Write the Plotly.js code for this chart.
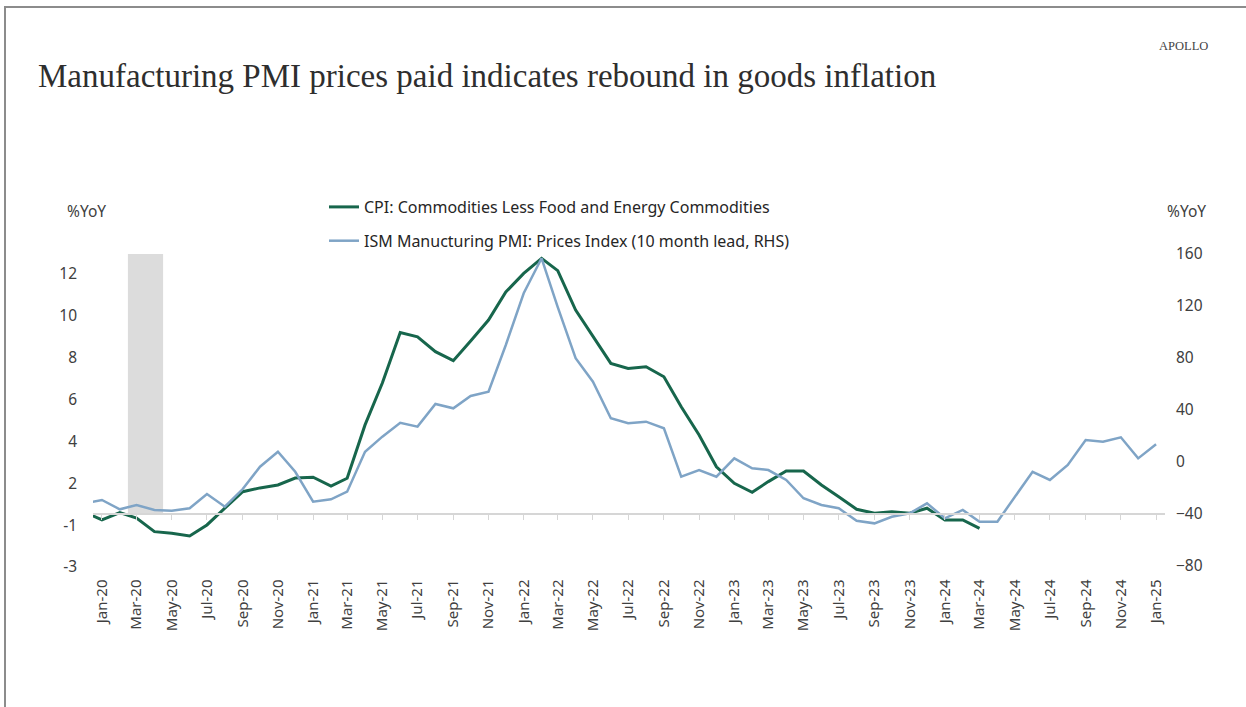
<!DOCTYPE html>
<html>
<head>
<meta charset="utf-8">
<script src="https://cdn.plot.ly/plotly-3.0.1.min.js"></script>
<style>
  html, body { margin: 0; padding: 0; background: #fff; }
  #wrap { position: relative; width: 1246px; height: 707px; overflow: hidden; }
  #chart { position: absolute; left: 0; top: 0; width: 1246px; height: 707px; }
  #frame { position: absolute; left: 4px; top: 6px; right: -4px; bottom: -4px;
           border-top: 2px solid #8c8c8c; border-left: 2px solid #8c8c8c; pointer-events: none; }
</style>
</head>
<body>
<div id="wrap">
  <div id="chart"></div>
  <div id="frame"></div>
</div>
<script>
// ---- data ----
const cpiMonths = [
  '2019-12','2020-01','2020-02','2020-03','2020-04','2020-05','2020-06','2020-07','2020-08','2020-09','2020-10','2020-11','2020-12',
  '2021-01','2021-02','2021-03','2021-04','2021-05','2021-06','2021-07','2021-08','2021-09','2021-10','2021-11','2021-12',
  '2022-01','2022-02','2022-03','2022-04','2022-05','2022-06','2022-07','2022-08','2022-09','2022-10','2022-11','2022-12',
  '2023-01','2023-02','2023-03','2023-04','2023-05','2023-06','2023-07','2023-08','2023-09','2023-10','2023-11','2023-12',
  '2024-01','2024-02','2024-03'
];
const cpiValues = [
  0.63,
  0.25, 0.60, 0.34, -0.31, -0.39, -0.52, 0.01, 0.81, 1.60, 1.78, 1.92, 2.25,
  2.29, 1.87, 2.24, 4.79, 6.79, 9.20, 9.00, 8.29, 7.86, 8.80, 9.80, 11.14,
  12.03, 12.75, 12.16, 10.28, 9.00, 7.73, 7.49, 7.57, 7.09, 5.66, 4.31, 2.79,
  2.00, 1.57, 2.08, 2.59, 2.59, 1.92, 1.36, 0.76, 0.57, 0.64, 0.57, 0.81,
  0.25, 0.25, -0.15
];
const ismMonths = [
  '2019-12','2020-01','2020-02','2020-03','2020-04','2020-05','2020-06','2020-07','2020-08','2020-09','2020-10','2020-11','2020-12',
  '2021-01','2021-02','2021-03','2021-04','2021-05','2021-06','2021-07','2021-08','2021-09','2021-10','2021-11','2021-12',
  '2022-01','2022-02','2022-03','2022-04','2022-05','2022-06','2022-07','2022-08','2022-09','2022-10','2022-11','2022-12',
  '2023-01','2023-02','2023-03','2023-04','2023-05','2023-06','2023-07','2023-08','2023-09','2023-10','2023-11','2023-12',
  '2024-01','2024-02','2024-03','2024-04','2024-05','2024-06','2024-07','2024-08','2024-09','2024-10','2024-11','2024-12',
  '2025-01'
];
const ismValues = [
  -31.8,
  -29.2, -36.4, -33.1, -36.9, -37.5, -35.6, -24.6, -34.4, -20.8, -3.6, 7.9, -7.5,
  -30.5, -28.7, -22.8, 7.9, 19.5, 30.2, 27.2, 44.6, 41.3, 50.8, 54.1, 90.0,
  129.8, 156.7, 119.2, 79.8, 61.8, 33.6, 29.8, 31.0, 25.9, -11.3, -6.2, -11.3,
  2.8, -4.8, -6.2, -13.8, -27.9, -33.1, -35.6, -45.2, -47.2, -42.1, -39.5, -31.8,
  -43.3, -36.9, -45.9, -45.9, -26.7, -7.5, -13.8, -2.3, 16.9, 15.6, 19.0, 2.8,
  13.6
];
// recession shading (Mar-20 to Apr-20 cells), on right axis from axis line to top
const recessionStart = '2020-02-15';
const recessionEnd = '2020-04-16';
const recessionBase = -40;
const recessionTop = 160;

// left axis tick labels as printed on the reference
const leftTickVals = [-2, 0, 2, 4, 6, 8, 10, 12];
const leftTickText = ['-3', '-1', '2', '4', '6', '8', '10', '12'];
const rightTickVals = [-80, -40, 0, 40, 80, 120, 160];

const cpiName = 'CPI: Commodities Less Food and Energy Commodities';
const ismName = 'ISM Manucturing PMI: Prices Index (10 month lead, RHS)';

const W = 1246, H = 707;
const L = 93, R = 1165, T = 245, B = 578;
const pw = R - L, ph = B - T;
const px = v => (v - L) / pw;
const py = v => (B - v) / ph;

const sans = 'Noto Sans, Open Sans, sans-serif';
const serif = 'Liberation Serif, DejaVu Serif, serif';

const traces = [
  {
    x: ismMonths, y: ismValues, name: ismName, yaxis: 'y2', type: 'scatter', mode: 'lines',
    line: { color: '#7fa4c6', width: 2.5 }, legendgroup: 'b', legendrank: 2
  },
  {
    x: cpiMonths, y: cpiValues, name: cpiName, yaxis: 'y', type: 'scatter', mode: 'lines',
    line: { color: '#17664c', width: 3 }, legendgroup: 'a', legendrank: 1
  }
];

const layout = {
  width: W, height: H,
  margin: { l: L, r: W - R, t: T, b: H - B, pad: 0, autoexpand: false },
  paper_bgcolor: '#ffffff', plot_bgcolor: '#ffffff',
  showlegend: true,
  legend: {
    xref: 'paper', yref: 'paper', x: px(324), y: py(190),
    xanchor: 'left', yanchor: 'top', orientation: 'v',
    traceorder: 'grouped', tracegroupgap: 10,
    font: { family: sans, size: 16, color: '#262626' },
    bgcolor: 'rgba(0,0,0,0)'
  },
  title: {
    text: 'Manufacturing PMI prices paid indicates rebound in goods inflation',
    xref: 'container', yref: 'container', x: 38 / W, y: 1 - 75 / H,
    xanchor: 'left', yanchor: 'middle',
    font: { family: serif, size: 33, color: '#2e2e2e' }
  },
  xaxis: {
    type: 'date',
    range: ['2019-12-16 12:00', '2025-01-16 12:00'],
    anchor: 'free', position: (B - 513) / ph,
    showline: true, linecolor: '#d6d6d6', linewidth: 1.5,
    ticks: 'outside', ticklen: 5, tickcolor: '#d6d6d6', tickwidth: 1,
    tick0: '2020-01-01', dtick: 'M2', tickformat: '%b-%y', tickangle: -90,
    ticklabelstandoff: 54,
    tickfont: { family: sans, size: 15, color: '#404040' },
    showgrid: false, zeroline: false
  },
  yaxis: {
    range: [-2.525, 13.386],
    tickvals: leftTickVals, ticktext: leftTickText,
    showline: false, showgrid: false, zeroline: false, ticks: '',
    ticklabelstandoff: 15,
    tickfont: { family: sans, size: 15.5, color: '#404040' }
  },
  yaxis2: {
    overlaying: 'y', side: 'right', anchor: 'x',
    range: [-89.23, 166.92],
    tickvals: rightTickVals,
    showline: false, showgrid: false, zeroline: false, ticks: '',
    ticklabelstandoff: 10,
    tickfont: { family: sans, size: 15.5, color: '#404040' }
  },
  shapes: [
    {
      type: 'rect', xref: 'x', yref: 'y2', layer: 'below',
      x0: recessionStart, x1: recessionEnd, y0: recessionBase, y1: recessionTop,
      fillcolor: '#dcdcdc', line: { width: 0 }
    }
  ],
  annotations: [
    { text: '%YoY', xref: 'paper', yref: 'paper', x: px(86), y: py(211), showarrow: false,
      xanchor: 'center', yanchor: 'middle', font: { family: sans, size: 15.5, color: '#404040' } },
    { text: '%YoY', xref: 'paper', yref: 'paper', x: px(1186), y: py(211), showarrow: false,
      xanchor: 'center', yanchor: 'middle', font: { family: sans, size: 15.5, color: '#404040' } },
    { text: 'APOLLO', xref: 'paper', yref: 'paper', x: px(1183), y: py(46), showarrow: false,
      xanchor: 'center', yanchor: 'middle', font: { family: serif, size: 12.5, color: '#444444' } }
  ]
};

Plotly.newPlot('chart', traces, layout, { displayModeBar: false, staticPlot: true });
</script>
</body>
</html>
